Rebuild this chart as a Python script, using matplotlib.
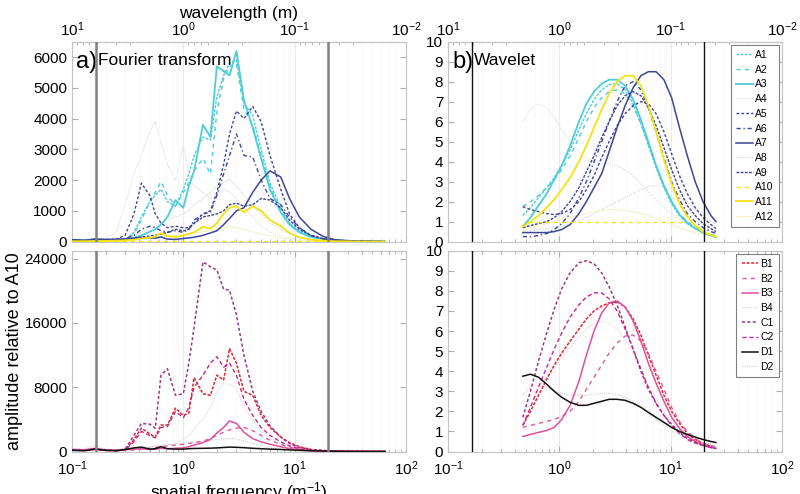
import matplotlib
matplotlib.use("Agg")
import matplotlib.pyplot as plt
import numpy as np

plt.rcParams['font.family'] = ['Liberation Sans', 'DejaVu Sans']
plt.rcParams['mathtext.fontset'] = 'custom'
plt.rcParams['mathtext.rm'] = 'Liberation Sans'
plt.rcParams['mathtext.it'] = 'Liberation Sans:italic'

# frequency grids (1/m)
f_ft = [0.1, 0.13, 0.16, 0.2, 0.25, 0.3, 0.36, 0.42, 0.5, 0.56, 0.63, 0.72,
        0.85, 1.0, 1.12, 1.25, 1.5, 1.75, 2.0, 2.3, 2.6, 3.0, 3.5, 4.2,
        5.0, 6.0, 7.5, 9.0, 11, 14, 18, 23, 30, 40, 50, 65]
f_wt = [0.47, 0.55, 0.65, 0.77, 0.9, 1.05, 1.25, 1.5, 1.75, 2.05, 2.4, 2.8,
        3.3, 3.9, 4.6, 5.4, 6.3, 7.4, 8.7, 10.2, 12, 14.1, 16.6, 19.5, 23, 25.5]
f_a10 = [0.52, 13.6]
f_cut = [0.165, 20.0]
wl_ticks = [10, 1, 0.1, 0.01]

# Fourier transform, group A
A1_ft = [40, 20, 60, 50, 40, 60, 300, 800, 1300, 1500, 1700, 1300, 1150, 1700, 2200, 2800, 3400, 3300,
         4700, 5400, 5800, 5900, 4500, 4100, 3000, 1900, 1100, 600, 350, 170, 90, 40, 20, 10, 5, 0]
A2_ft = [40, 20, 60, 50, 40, 60, 250, 700, 1300, 1600, 1950, 1500, 1150, 1600, 1900, 2300, 2700, 2200,
         4200, 5300, 5700, 5800, 4300, 3800, 2800, 1800, 1000, 550, 320, 160, 80, 40, 20, 10, 5, 0]
A3_ft = [60, 40, 80, 60, 60, 70, 120, 200, 320, 400, 550, 800, 1350, 1100, 1800, 2300, 3800, 3400,
         5700, 5550, 5400, 6200, 4600, 3700, 2700, 1700, 950, 550, 300, 150, 80, 40, 20, 10, 5, 0]
A4_ft = [0, 0, 50, 100, 300, 1200, 2200, 2800, 3600, 3900, 3200, 2500, 2000, 3150, 2200, 1800, 1600, 1400,
         1500, 1700, 1600, 1400, 1100, 800, 500, 300, 180, 100, 50, 30, 15, 5, 0, 0, 0, 0]
A5_ft = [50, 30, 50, 60, 80, 200, 900, 1900, 1500, 900, 600, 450, 500, 450, 450, 600, 900, 1000,
         1600, 2500, 3500, 4250, 4000, 4400, 3900, 2800, 1700, 900, 450, 200, 90, 40, 20, 10, 5, 0]
A6_ft = [50, 30, 50, 60, 80, 100, 200, 400, 500, 450, 350, 300, 350, 300, 400, 700, 900, 950,
         1500, 2200, 2800, 3500, 2800, 2750, 2000, 1400, 1200, 800, 450, 200, 90, 40, 20, 10, 5, 0]
A7_ft = [60, 40, 80, 70, 70, 80, 100, 130, 120, 110, 150, 80, 70, 100, 120, 140, 200, 280,
         350, 550, 750, 1000, 1100, 1600, 2000, 2300, 2100, 1400, 800, 400, 170, 60, 30, 10, 5, 0]
A8_ft = [0, 0, 0, 30, 60, 100, 200, 300, 400, 500, 600, 700, 800, 900, 1000, 1200, 1400, 1600,
         1800, 1900, 2050, 1800, 1500, 1200, 900, 600, 400, 250, 120, 60, 30, 10, 5, 0, 0, 0]
A9_ft = [40, 30, 40, 50, 60, 80, 120, 150, 180, 200, 250, 300, 400, 350, 400, 600, 800, 850,
         900, 1000, 1200, 1250, 1150, 1200, 1400, 1350, 1100, 700, 400, 200, 90, 40, 20, 10, 5, 0]
A10_ft = [10, 10, 10, 10, 10, 10, 10, 10, 10, 10, 10, 10, 10, 10, 10, 10, 10, 10,
          10, 10, 10, 10, 10, 10, 10, 10, 10, 10, 10, 10, 10, 10, 10, 10, 10, 10]
A11_ft = [10, 10, 20, 20, 30, 40, 60, 100, 130, 160, 280, 180, 150, 200, 250, 300, 480, 420,
          600, 900, 1100, 1150, 950, 1150, 1000, 700, 500, 280, 140, 60, 30, 10, 5, 0, 0, 0]
A12_ft = [0, 0, 20, 30, 40, 60, 80, 100, 120, 140, 160, 180, 200, 220, 250, 280, 320, 360,
          400, 450, 480, 450, 400, 320, 250, 180, 120, 80, 40, 20, 10, 5, 0, 0, 0, 0]

# Fourier transform, groups B, C, D
B1_ft = [200, 150, 300, 150, 100, 200, 1500, 2900, 2200, 1800, 3300, 3300, 5400, 4500, 4800, 9200, 7200, 7000,
         9500, 8900, 12800, 11000, 7500, 7000, 4500, 3000, 1800, 1100, 600, 250, 120, 60, 40, 30, 20, 10]
B2_ft = [200, 150, 250, 150, 100, 150, 200, 300, 400, 500, 600, 700, 800, 900, 1000, 1100, 1300, 1600,
         2000, 2400, 2700, 2900, 3000, 2600, 2000, 1400, 900, 500, 300, 150, 70, 40, 20, 10, 10, 5]
B3_ft = [250, 200, 400, 200, 150, 250, 300, 350, 250, 300, 400, 350, 400, 450, 600, 800, 1100, 1500,
         2300, 3000, 3800, 3500, 2400, 1600, 1200, 900, 600, 350, 200, 100, 50, 30, 20, 10, 5, 5]
B4_ft = [100, 80, 150, 100, 80, 100, 200, 300, 500, 600, 700, 800, 1000, 1500, 2000, 2800, 4000, 5500,
         7500, 8500, 8300, 8000, 5500, 4000, 2500, 1600, 1000, 600, 300, 150, 70, 30, 15, 10, 5, 0]
C1_ft = [200, 150, 300, 200, 150, 300, 2000, 3500, 3400, 2900, 9500, 10300, 7000, 7200, 11000, 15500, 23600, 23000,
         22600, 20200, 20100, 17000, 12000, 7500, 5000, 3200, 1800, 1000, 500, 250, 120, 60, 40, 30, 20, 10]
C2_ft = [150, 120, 250, 150, 100, 200, 1200, 2500, 2000, 1700, 3000, 3100, 5000, 4200, 5500, 8000, 9500, 11000,
         11800, 10500, 11000, 9500, 6500, 4500, 3000, 2000, 1200, 700, 350, 150, 70, 40, 20, 10, 5, 5]
D1_ft = [150, 100, 300, 150, 100, 250, 450, 550, 300, 350, 600, 350, 300, 300, 350, 380, 400, 420,
         450, 500, 550, 520, 480, 400, 350, 300, 250, 200, 150, 100, 60, 40, 20, 10, 5, 5]
D2_ft = [400, 300, 800, 300, 200, 300, 400, 500, 600, 700, 800, 850, 900, 1000, 1100, 1200, 1300, 1400,
         1500, 1550, 1600, 1550, 1300, 1000, 700, 450, 300, 200, 100, 50, 30, 15, 10, 5, 5, 0]

# Wavelet, group A
A1_wt = [1.3, 1.7, 2.2, 2.7, 3.2, 3.8, 4.6, 5.6, 6.4, 7.1, 7.6, 7.85, 7.9, 7.6, 6.9, 5.9, 4.8, 3.7,
         2.7, 1.9, 1.3, 0.9, 0.65, 0.45, 0.32, 0.25]
A2_wt = [1.75, 2.0, 2.3, 2.7, 3.1, 3.6, 4.3, 5.2, 6.0, 6.7, 7.2, 7.5, 7.6, 7.4, 6.8, 5.9, 4.9, 3.8,
         2.8, 2.0, 1.4, 1.0, 0.7, 0.5, 0.36, 0.28]
A3_wt = [0.75, 1.2, 1.8, 2.4, 3.1, 3.8, 4.8, 6.0, 6.9, 7.5, 7.9, 8.1, 8.1, 7.8, 7.1, 6.1, 5.0, 3.8,
         2.8, 2.0, 1.35, 0.95, 0.65, 0.45, 0.3, 0.22]
A4_wt = [6.0, 6.6, 6.9, 6.7, 6.2, 5.6, 5.0, 4.5, 4.2, 4.0, 3.9, 3.9, 3.8, 3.6, 3.3, 2.9, 2.5, 2.1,
         1.7, 1.4, 1.1, 0.9, 0.75, 0.6, 0.5, 0.45]
A5_wt = [1.75, 1.6, 1.5, 1.4, 1.35, 1.4, 1.6, 2.0, 2.6, 3.3, 4.2, 5.0, 5.8, 6.4, 6.8, 7.0, 6.9, 6.4,
         5.5, 4.4, 3.3, 2.4, 1.7, 1.2, 0.85, 0.65]
A6_wt = [0.25, 0.25, 0.3, 0.4, 0.6, 0.9, 1.4, 2.2, 3.0, 4.0, 5.0, 6.0, 7.0, 7.8, 8.0, 7.6, 6.7, 5.5,
         4.2, 3.0, 2.1, 1.4, 1.0, 0.7, 0.5, 0.4]
A7_wt = [0.45, 0.45, 0.45, 0.45, 0.5, 0.6, 0.85, 1.4, 2.0, 2.7, 3.4, 4.5, 5.7, 6.8, 7.7, 8.3, 8.5, 8.5,
         8.1, 7.2, 5.7, 4.3, 3.0, 2.0, 1.3, 1.0]
A8_wt = [0.5, 0.55, 0.6, 0.65, 0.7, 0.8, 0.9, 1.05, 1.2, 1.4, 1.6, 1.8, 2.0, 2.2, 2.4, 2.6, 2.75, 2.8,
         2.75, 2.6, 2.3, 2.0, 1.6, 1.3, 1.0, 0.9]
A9_wt = [0.7, 0.8, 0.9, 1.0, 1.2, 1.5, 2.0, 2.7, 3.5, 4.3, 5.2, 6.0, 6.8, 7.3, 7.5, 7.3, 6.7, 5.8,
         4.7, 3.6, 2.6, 1.8, 1.3, 0.9, 0.65, 0.5]
A10_wt = [1.0, 1.0]
A11_wt = [0.75, 1.0, 1.3, 1.7, 2.1, 2.6, 3.2, 4.0, 4.8, 5.7, 6.6, 7.4, 8.0, 8.3, 8.3, 7.8, 6.8, 5.5,
          4.1, 2.9, 1.9, 1.25, 0.8, 0.5, 0.33, 0.25]
A12_wt = [0.6, 0.7, 0.8, 0.9, 1.0, 1.1, 1.2, 1.3, 1.4, 1.5, 1.55, 1.6, 1.6, 1.55, 1.5, 1.4, 1.3, 1.15,
          1.0, 0.85, 0.7, 0.55, 0.45, 0.35, 0.3, 0.25]

# Wavelet, groups B, C, D
B1_wt = [1.3, 2.0, 2.8, 3.6, 4.3, 4.9, 5.5, 6.1, 6.6, 7.0, 7.25, 7.4, 7.45, 7.2, 6.6, 5.8, 4.8, 3.8,
         2.8, 2.0, 1.4, 0.9, 0.6, 0.4, 0.27, 0.22]
B2_wt = [1.2, 1.3, 1.4, 1.5, 1.6, 1.75, 2.0, 2.5, 3.1, 3.7, 4.3, 4.9, 5.4, 5.75, 5.8, 5.5, 4.9, 4.0,
         3.1, 2.2, 1.5, 1.0, 0.65, 0.42, 0.28, 0.2]
B3_wt = [0.75, 0.85, 0.95, 1.05, 1.2, 1.6, 2.3, 3.5, 4.8, 6.0, 6.9, 7.4, 7.5, 7.2, 6.5, 5.5, 4.4, 3.4,
         2.5, 1.7, 1.15, 0.75, 0.5, 0.32, 0.2, 0.15]
B4_wt = [2.4, 2.8, 3.2, 3.7, 4.2, 4.7, 5.2, 5.7, 6.1, 6.4, 6.5, 6.4, 6.1, 5.6, 4.9, 4.1, 3.3, 2.6,
         2.0, 1.5, 1.1, 0.8, 0.55, 0.4, 0.3, 0.25]
C1_wt = [1.7, 3.0, 4.5, 5.9, 7.1, 8.1, 8.9, 9.4, 9.5, 9.35, 8.9, 8.2, 7.3, 6.2, 5.1, 4.0, 3.1, 2.4,
         1.8, 1.35, 0.95, 0.65, 0.45, 0.3, 0.2, 0.15]
C2_wt = [1.3, 2.2, 3.2, 4.2, 5.1, 5.9, 6.7, 7.3, 7.7, 7.9, 7.9, 7.6, 7.0, 6.1, 5.1, 4.1, 3.2, 2.4,
         1.8, 1.3, 0.9, 0.6, 0.42, 0.3, 0.2, 0.15]
D1_wt = [3.75, 3.85, 3.7, 3.35, 3.0, 2.7, 2.45, 2.3, 2.3, 2.4, 2.5, 2.6, 2.6, 2.55, 2.4, 2.2, 1.95, 1.7,
         1.45, 1.2, 1.0, 0.85, 0.72, 0.6, 0.5, 0.45]
D2_wt = [2.8, 3.2, 3.3, 3.2, 3.0, 2.9, 2.8, 2.8, 2.8, 2.85, 2.9, 2.9, 2.85, 2.7, 2.5, 2.2, 1.9, 1.6,
         1.3, 1.05, 0.85, 0.7, 0.55, 0.45, 0.35, 0.3]

names_A = ['A1', 'A2', 'A3', 'A4', 'A5', 'A6', 'A7', 'A8', 'A9', 'A10', 'A11', 'A12']
names_BCD = ['B1', 'B2', 'B3', 'B4', 'C1', 'C2', 'D1', 'D2']

ft = {'A1': A1_ft, 'A2': A2_ft, 'A3': A3_ft, 'A4': A4_ft, 'A5': A5_ft, 'A6': A6_ft,
      'A7': A7_ft, 'A8': A8_ft, 'A9': A9_ft, 'A10': A10_ft, 'A11': A11_ft, 'A12': A12_ft,
      'B1': B1_ft, 'B2': B2_ft, 'B3': B3_ft, 'B4': B4_ft, 'C1': C1_ft, 'C2': C2_ft,
      'D1': D1_ft, 'D2': D2_ft}
wt = {'A1': A1_wt, 'A2': A2_wt, 'A3': A3_wt, 'A4': A4_wt, 'A5': A5_wt, 'A6': A6_wt,
      'A7': A7_wt, 'A8': A8_wt, 'A9': A9_wt, 'A10': A10_wt, 'A11': A11_wt, 'A12': A12_wt,
      'B1': B1_wt, 'B2': B2_wt, 'B3': B3_wt, 'B4': B4_wt, 'C1': C1_wt, 'C2': C2_wt,
      'D1': D1_wt, 'D2': D2_wt}

cyan = '#4ccdd8'
navy = '#3d4596'
yellow = '#f4e30f'
faint = '#d9dcdf'
# name: (colour, linestyle, linewidth, zorder)
styles = {
    'A1': (cyan, (0, (2, 1)), 1.0, 3),
    'A2': (cyan, (0, (3, 3)), 1.0, 3),
    'A3': (cyan, '-', 1.3, 3),
    'A4': (faint, (0, (1, 1)), 0.8, 1),
    'A5': (navy, (0, (2, 1.5)), 1.0, 3),
    'A6': (navy, (0, (3, 2, 1, 2)), 1.0, 3),
    'A7': (navy, '-', 1.1, 3),
    'A8': ('#d4d4d4', (0, (1, 1)), 0.8, 1),
    'A9': (navy, (0, (2, 1)), 1.0, 3),
    'A10': (yellow, (0, (3, 3)), 1.0, 3),
    'A11': (yellow, '-', 1.3, 3),
    'A12': ('#f6f2c4', '-', 0.8, 1),
    'B1': ('#e8232d', (0, (2, 1)), 1.1, 3),
    'B2': ('#df5a9f', (0, (3, 3)), 1.0, 3),
    'B3': ('#e0509a', '-', 1.1, 3),
    'B4': ('#d8d8d8', (0, (1, 1)), 0.8, 1),
    'C1': ('#9a3590', (0, (2, 1.5)), 1.1, 3),
    'C2': ('#c4288e', (0, (3, 2)), 1.0, 3),
    'D1': ('#111111', '-', 1.1, 3),
    'D2': ('#cfcfcf', (0, (1, 1)), 0.8, 1),
}


def draw(ax, freq, data, names):
    for n in names:
        c, ls, lw, z = styles[n]
        x = f_a10 if (n == 'A10' and data is wt) else freq
        ax.plot(x, data[n], color=c, ls=ls, lw=lw, zorder=z, label=n)


def inv(x):
    x = np.asarray(x, dtype=float)
    with np.errstate(divide='ignore'):
        return 1.0 / x


def style_axes(ax, top_panel, cut_color, cut_lw):
    ax.set_xscale('log')
    ax.set_xlim(0.1, 100)
    ax.grid(True, which='major', axis='x', color='#ebebeb', lw=0.8)
    ax.grid(True, which='minor', axis='x', color='#f7f7f7', lw=0.6)
    for s in ax.spines.values():
        s.set_color('#c4c4c4')
    ax.tick_params(which='both', direction='in', color='#b0b0b0', labelsize=11,
                   top=not top_panel, right=True)
    ax.tick_params(axis='x', pad=6)
    ax.tick_params(which='major', length=4)
    ax.tick_params(which='minor', length=2)
    for fc in f_cut:
        ax.axvline(fc, color=cut_color, lw=cut_lw, zorder=4)
    if top_panel:
        ax.tick_params(labelbottom=False)
        sec = ax.secondary_xaxis('top', functions=(inv, inv))
        sec.set_xticks(wl_ticks)
        sec.tick_params(which='both', direction='in', color='#b0b0b0', labelsize=11, pad=2)
        sec.tick_params(which='major', length=4)
        sec.tick_params(which='minor', length=2)
        sec.spines['top'].set_color('#c4c4c4')
        return sec
    return None


fig = plt.figure(figsize=(8, 4.94), dpi=100)
ax_a = fig.add_axes([0.09, 0.511, 0.4175, 0.4045])
ax_c = fig.add_axes([0.09, 0.086, 0.4175, 0.4065])
ax_b = fig.add_axes([0.56, 0.511, 0.4175, 0.4045])
ax_d = fig.add_axes([0.56, 0.086, 0.4175, 0.4065])

# a) Fourier transform
draw(ax_a, f_ft, ft, names_A)
sec = style_axes(ax_a, True, '#808080', 1.8)
sec.set_xlabel('wavelength (m)', fontsize=12.5, labelpad=2)
ax_a.set_ylim(0, 6500)
ax_a.set_yticks([0, 1000, 2000, 3000, 4000, 5000, 6000])
ax_a.text(0.012, 0.955, 'a)', transform=ax_a.transAxes, fontsize=17, va='top')
ax_a.text(0.078, 0.945, 'Fourier transform', transform=ax_a.transAxes, fontsize=12.5, va='top')

draw(ax_c, f_ft, ft, names_BCD)
style_axes(ax_c, False, '#808080', 1.8)
ax_c.set_ylim(0, 25000)
ax_c.set_yticks([0, 8000, 16000, 24000])
ax_c.set_ylabel('amplitude relative to A10', fontsize=13, labelpad=1)
ax_c.set_xlabel('spatial frequency (m$^{-1}$)', fontsize=12.5, labelpad=1)

# b) Wavelet
draw(ax_b, f_wt, wt, names_A)
style_axes(ax_b, True, '#111111', 1.0)
ax_b.set_ylim(0, 10)
ax_b.set_yticks(range(0, 11))
ax_b.text(0.012, 0.955, 'b)', transform=ax_b.transAxes, fontsize=17, va='top')
ax_b.text(0.078, 0.945, 'Wavelet', transform=ax_b.transAxes, fontsize=12.5, va='top')

draw(ax_d, f_wt, wt, names_BCD)
style_axes(ax_d, False, '#111111', 1.0)
ax_d.set_ylim(0, 10)
ax_d.set_yticks(range(0, 11))

for ax in (ax_b, ax_d):
    leg = ax.legend(loc='upper right', fontsize=7.5, handlelength=1.6, handletextpad=0.2,
                    labelspacing=0.45, borderpad=0.5, borderaxespad=0.3,
                    fancybox=False, framealpha=1)
    leg.get_frame().set_edgecolor('#808080')
    leg.get_frame().set_linewidth(0.8)

fig.savefig('out.png', dpi=100)
